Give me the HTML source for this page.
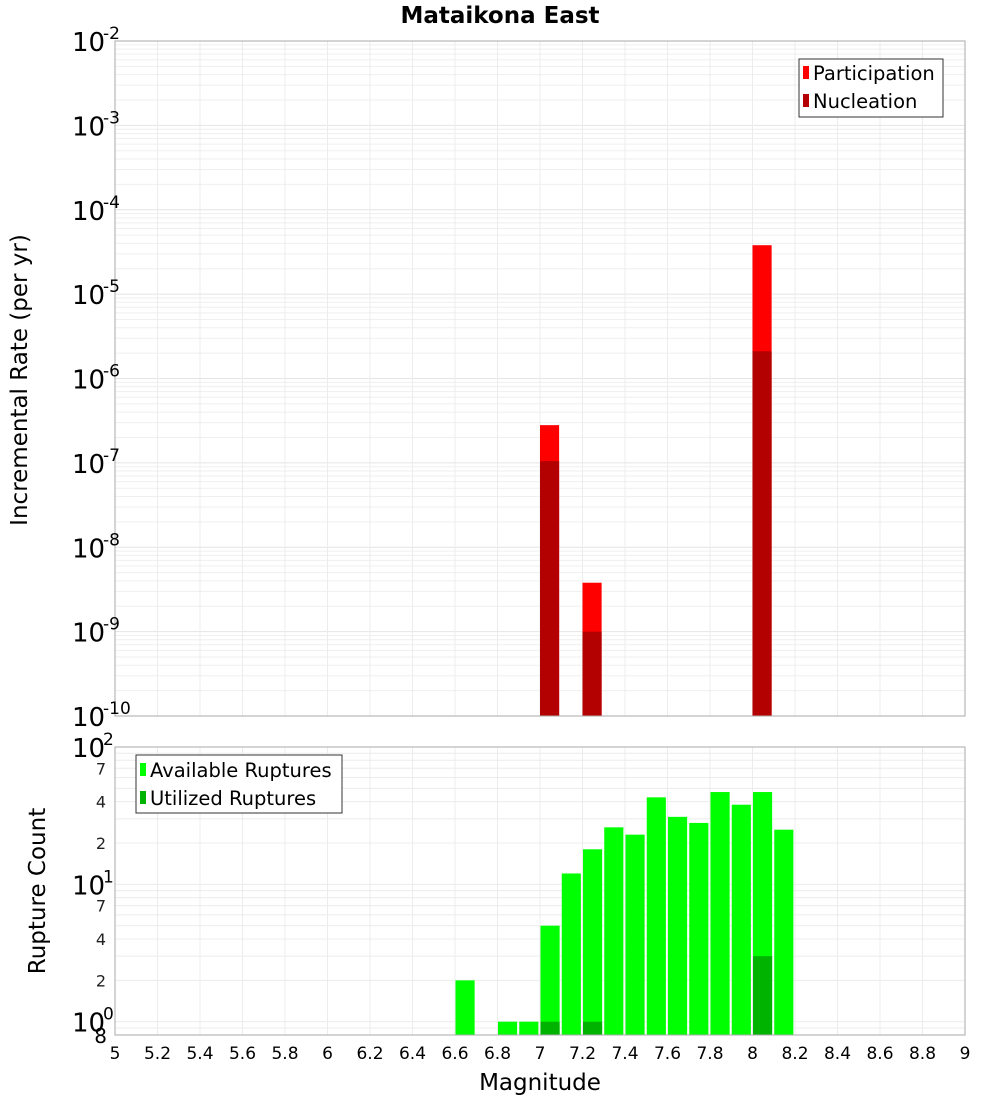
<!DOCTYPE html>
<html><head><meta charset="utf-8"><style>
body{margin:0;background:#fff;}
svg{display:block;font-family:"DejaVu Sans","Liberation Sans",sans-serif;}
</style></head><body>
<svg id="c" width="1000" height="1100" viewBox="0 0 1000 1100" xmlns="http://www.w3.org/2000/svg">
<text x="500" y="23" text-anchor="middle" font-size="23" font-weight="bold">Mataikona East</text>
<g id="topPanel"></g>
<g id="botPanel"></g>
<text transform="translate(27,380) rotate(-90)" text-anchor="middle" font-size="23">Incremental Rate (per yr)</text>
<text transform="translate(45,891) rotate(-90)" text-anchor="middle" font-size="23">Rupture Count</text>
<text x="540" y="1090" text-anchor="middle" font-size="23">Magnitude</text>
<g>
<rect x="799" y="59" width="144" height="58" fill="#fff" stroke="#333"/>
<rect x="803" y="66" width="6" height="13" fill="#ff0000"/>
<text x="813" y="80" font-size="19.5">Participation</text>
<rect x="803" y="94" width="6" height="13" fill="#b30000"/>
<text x="813" y="108" font-size="19.5">Nucleation</text>
</g>
</svg>
<script>
const xTicks=[5,5.2,5.4,5.6,5.8,6,6.2,6.4,6.6,6.8,7,7.2,7.4,7.6,7.8,8,8.2,8.4,8.6,8.8,9];
const rateMags=[7.0,7.2,8.0];
const participation=[2.8e-7,3.8e-9,3.8e-5];
const nucleation=[1.05e-7,1.0e-9,2.1e-6];
const countMags=[6.6,6.8,6.9,7.0,7.1,7.2,7.3,7.4,7.5,7.6,7.7,7.8,7.9,8.0,8.1];
const available=[2,1,1,5,12,18,26,23,43,31,28,47,38,47,25];
const utilMags=[7.0,7.2,8.0];
const utilized=[1,1,3];
const rateExps=[-2,-3,-4,-5,-6,-7,-8,-9,-10];
const countMinorLabels=[7,4,2,7,4,2];

const NS="http://www.w3.org/2000/svg";
function mk(p,t,a){const e=document.createElementNS(NS,t);for(const k in a)e.setAttribute(k,a[k]);p.appendChild(e);return e;}
const L=115,R=965;
const xs=m=>L+(m-5)/4*(R-L);
const T1=41,B1=716;
const y1=v=>T1+(-2-Math.log10(v))/8*(B1-T1);
const T2=747,B2=1035,lmin=Math.log10(0.8);
const y2=v=>T2+(2-Math.log10(v))/(2-lmin)*(B2-T2);
const topG=document.getElementById('topPanel'),botG=document.getElementById('botPanel');

for(let e=-10;e<-2;e++)for(let k=1;k<10;k++){const yy=y1(k*Math.pow(10,e));
 const g=mk(topG,'line',{x1:L,x2:R,y1:yy,y2:yy,stroke:k==1?'#e4e4e4':'#efefef','stroke-width':1});
 
 }
xTicks.forEach(t=>{[topG,botG].forEach((p,i)=>{const g=mk(p,'line',{x1:xs(t),x2:xs(t),y1:i?T2:T1,y2:i?B2:B1,stroke:'#ececec'});
 
 });});
rateMags.forEach((m,i)=>{
 const r=mk(topG,'rect',{x:xs(m),width:xs(m+0.09)-xs(m),y:y1(participation[i]),height:B1-y1(participation[i]),fill:'#ff0000'});
 
 
 const n=mk(topG,'rect',{x:xs(m),width:xs(m+0.09)-xs(m),y:y1(nucleation[i]),height:B1-y1(nucleation[i]),fill:'#b30000'});
 
 });
mk(topG,'rect',{x:L,y:T1,width:R-L,height:B1-T1,fill:'none',stroke:'#aaa'});
rateExps.forEach(e=>{const yy=y1(Math.pow(10,e));
 const t=mk(topG,'text',{x:72,y:yy+10,'font-size':26});t.textContent='10';
 
 
 const s=mk(topG,'text',{x:103,y:yy-2,'font-size':17});s.textContent=String(e);
 
 });

for(let e=-1;e<2;e++)for(let k=1;k<10;k++){const v=k*Math.pow(10,e);if(v<0.8)continue;const yy=y2(v);
 const g=mk(botG,'line',{x1:L,x2:R,y1:yy,y2:yy,stroke:'#ececec'});
 
 }
countMags.forEach((m,i)=>{
 const r=mk(botG,'rect',{x:xs(m)+0.5,width:xs(m+0.09)-xs(m),y:y2(available[i]),height:B2-y2(available[i]),fill:'#00ff00'});
 
 });
utilMags.forEach((m,i)=>{
 const r=mk(botG,'rect',{x:xs(m)+0.5,width:xs(m+0.09)-xs(m),y:y2(utilized[i]),height:B2-y2(utilized[i]),fill:'#00b300'});
 
 });
mk(botG,'rect',{x:L,y:T2,width:R-L,height:B2-T2,fill:'none',stroke:'#aaa'});
[2,1,0].forEach(e=>{const yy=y2(Math.pow(10,e));
 const t=mk(botG,'text',{x:72,y:yy+10,'font-size':26});t.textContent='10';
 
 
 const s=mk(botG,'text',{x:103,y:yy-2,'font-size':17});s.textContent=String(e);
 
 });
countMinorLabels.forEach((k,i)=>{const v=k*(i<3?10:1);const yy=y2(v);
 const t=mk(botG,'text',{x:106,y:yy+6,'font-size':16,'text-anchor':'end',fill:'#222'});t.textContent=String(k);
 
 });
{const t=mk(botG,'text',{x:107,y:y2(0.8)+8,'font-size':20,'text-anchor':'end'});t.textContent='8';
 
 }
xTicks.forEach(t=>{const s=mk(botG,'text',{x:xs(t),y:1059,'font-size':17,'text-anchor':'middle'});s.textContent=String(t);
 
 });
const lg=mk(botG,'g',{});


mk(lg,'rect',{x:136,y:755,width:206,height:58,fill:'#fff',stroke:'#333'});
mk(lg,'rect',{x:140,y:763,width:6,height:13,fill:'#00ff00'});
const a=mk(lg,'text',{x:150,y:777,'font-size':19.5});a.textContent='Available Ruptures';


mk(lg,'rect',{x:140,y:791,width:6,height:13,fill:'#00b300'});
const u=mk(lg,'text',{x:150,y:805,'font-size':19.5});u.textContent='Utilized Ruptures';


</script>
</body></html>
